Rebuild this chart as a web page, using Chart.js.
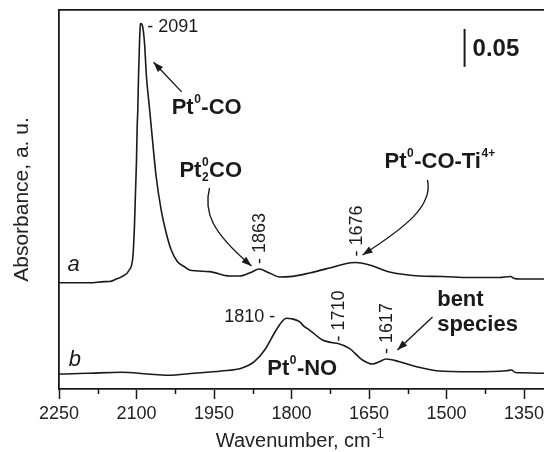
<!DOCTYPE html>
<html>
<head>
<meta charset="utf-8">
<script src="https://cdn.jsdelivr.net/npm/chart.js@4.4.0/dist/chart.umd.min.js"></script>
<style>
  html, body { margin: 0; padding: 0; background: #fff; overflow: hidden; }
  #wrap { width: 560px; height: 452px; }
</style>
</head>
<body>
<div id="wrap"><canvas id="ir" width="560" height="452"></canvas></div>
<script>
// Spectrum a: CO adsorption (wavenumber, absorbance)
const waveA = [2290, 2249, 2191, 2162, 2152, 2139, 2129, 2114, 2107, 2104, 2102, 2100, 2098.7, 2097.5,
  2096.1, 2094.2, 2092.3, 2091, 2088.1, 2084.5, 2080.7, 2074.5, 2068.5, 2061.9, 2052.2, 2042.5,
  2032.8, 2020.7, 2007.1, 1997.4, 1958.7, 1920, 1900.7, 1875.5, 1863, 1842.6, 1823.3, 1803.9,
  1765.2, 1726.5, 1697.5, 1676, 1649.2, 1610.3, 1581.3, 1552.3, 1507.8, 1455.5, 1397.5, 1376.2,
  1368.5, 1358.8, 1314, 1290];
const absA = [0.1402, 0.1402, 0.1402, 0.1416, 0.1418, 0.1451, 0.148, 0.157, 0.1745, 0.2141, 0.2586, 0.302,
  0.346, 0.368, 0.412, 0.4565, 0.4815, 0.482, 0.478, 0.4565, 0.412, 0.368, 0.3245, 0.280, 0.236,
  0.2058, 0.1834, 0.168, 0.1613, 0.157, 0.1548, 0.149, 0.149, 0.1548, 0.1583, 0.153, 0.1478,
  0.1482, 0.153, 0.1596, 0.165, 0.1669, 0.1636, 0.1544, 0.151, 0.149, 0.1484, 0.1471, 0.1471,
  0.1484, 0.1458, 0.1451, 0.1451, 0.1451];

// Spectrum b: NO adsorption
const waveB = [2290, 2249, 2195, 2129, 2079, 2040, 1988, 1936, 1897, 1872, 1852, 1833, 1819, 1810,
  1800, 1784.5, 1775, 1765, 1740, 1722.6, 1710, 1688, 1662.6, 1643.2, 1629.7, 1617, 1591, 1558,
  1519.4, 1449.7, 1383.9, 1374.3, 1366.6, 1353, 1314, 1290];
const absB = [0.0198, 0.0198, 0.0207, 0.022, 0.0198, 0.0181, 0.0207, 0.0237, 0.0273, 0.036, 0.0515,
  0.0739, 0.0884, 0.0933, 0.0927, 0.0888, 0.0822, 0.0778, 0.0646, 0.0613, 0.060, 0.0537, 0.0383,
  0.033, 0.036, 0.0396, 0.036, 0.0294, 0.0241, 0.0228, 0.0241, 0.025, 0.0218, 0.0215, 0.0207, 0.0207];

const majorStep = 150;
const minorTicks = [2175, 2025, 1875, 1725, 1575, 1425];

// Band positions marked on the traces
const peakLabels = [
  { text: '- 2091', wave: 2091, abs: 0.482, rot: false, dx: 6, dy: 3, align: 'left' },
  { text: '1810 -', wave: 1810, abs: 0.0933, rot: false, dx: -11, dy: -1, align: 'right' },
  { text: '- 1863', wave: 1863, abs: 0.1583, rot: true, gap: 5 },
  { text: '- 1676', wave: 1676, abs: 0.1669, rot: true, gap: 6 },
  { text: '- 1710', wave: 1710, abs: 0.060, rot: true, gap: 2 },
  { text: '- 1617', wave: 1617, abs: 0.0396, rot: true, gap: 5 }
];

// Species names (bold, with super/subscripts)
const speciesLabels = [
  { wave: 2032, abs: 0.371, parts: [{ t: 'Pt' }, { sup: '0' }, { t: '-CO' }] },
  { wave: 2017, abs: 0.288, parts: [{ t: 'Pt' }, { sup: '0', sub: '2' }, { t: 'CO' }] },
  { wave: 1620, abs: 0.2995, parts: [{ t: 'Pt' }, { sup: '0' }, { t: '-CO-Ti' }, { sup: '4+' }] },
  { wave: 1847, abs: 0.027, parts: [{ t: 'Pt' }, { sup: '0' }, { t: '-NO' }] },
  { wave: 1518, abs: 0.117, parts: [{ t: 'bent' }] },
  { wave: 1518, abs: 0.0844, parts: [{ t: 'species' }] }
];

const traceNames = [
  { text: 'a', wave: 2233.5, abs: 0.156 },
  { text: 'b', wave: 2231, abs: 0.0307 }
];

// Straight arrows [tailWave, tailAbs, headWave, headAbs]
const straightArrows = [
  [2012.6, 0.392, 2067, 0.431],
  [1527, 0.095, 1595, 0.0515]
];
// Curved arrows: four bezier points, last one is the head
const curvedArrows = [
  [[1958.7, 0.2652], [1970.3, 0.2335], [1954.9, 0.2071], [1877.4, 0.1623]],
  [[1536.8, 0.2757], [1525.2, 0.2414], [1581.3, 0.2124], [1662.6, 0.1768]]
];

// Absorbance scale bar
const scaleBar = { wave: 1465, from: 0.425, to: 0.475, text: '0.05' };

const xTitle = { text: 'Wavenumber, cm', sup: '-1' };

const FONT = '"Liberation Sans", Arial, Helvetica, sans-serif';
const INK = '#1a1a1a';
Chart.defaults.font.family = FONT;
Chart.defaults.color = INK;

function toXY(pts, w) { return w.map((x, i) => ({ x: x, y: pts[i] })); }

function drawRich(ctx, x, y, parts, size) {
  ctx.textAlign = 'left';
  ctx.textBaseline = 'middle';
  let cx = x;
  parts.forEach(p => {
    if (p.t) {
      ctx.font = `bold ${size}px ${FONT}`;
      ctx.fillText(p.t, cx, y);
      cx += ctx.measureText(p.t).width;
    } else {
      const s = Math.round(size * 0.55);
      ctx.font = `bold ${s}px ${FONT}`;
      let w = 0;
      if (p.sup) {
        ctx.fillText(p.sup, cx + 0.5, y - size * 0.36);
        w = Math.max(w, ctx.measureText(p.sup).width);
      }
      if (p.sub) {
        ctx.fillText(p.sub, cx + 0.5, y + size * 0.32);
        w = Math.max(w, ctx.measureText(p.sub).width);
      }
      cx += w + 1;
    }
  });
}

function arrowHead(ctx, fx, fy, tx, ty) {
  const ang = Math.atan2(ty - fy, tx - fx);
  const len = 10, half = 3.6;
  ctx.beginPath();
  ctx.moveTo(tx, ty);
  ctx.lineTo(tx - len * Math.cos(ang) + half * Math.sin(ang), ty - len * Math.sin(ang) - half * Math.cos(ang));
  ctx.lineTo(tx - len * Math.cos(ang) - half * Math.sin(ang), ty - len * Math.sin(ang) + half * Math.cos(ang));
  ctx.closePath();
  ctx.fill();
}

const irNotes = {
  id: 'irNotes',
  afterDraw(chart) {
    const { ctx, scales: { x, y } } = chart;
    const px = w => x.getPixelForValue(w);
    const py = a => y.getPixelForValue(a);
    ctx.save();
    ctx.fillStyle = INK;
    ctx.strokeStyle = INK;

    // minor ticks on the wavenumber axis
    ctx.lineWidth = 1.5;
    minorTicks.forEach(w => {
      const xx = Math.round(px(w)) + 0.5;
      ctx.beginPath();
      ctx.moveTo(xx, x.top);
      ctx.lineTo(xx, x.top + 5);
      ctx.stroke();
    });

    // x axis title with superscript unit
    ctx.fillStyle = '#222';
    ctx.textAlign = 'left';
    ctx.textBaseline = 'alphabetic';
    ctx.font = `20px ${FONT}`;
    const mainW = ctx.measureText(xTitle.text).width;
    ctx.font = `14px ${FONT}`;
    const supW = ctx.measureText(xTitle.sup).width;
    const tx = 300 - (mainW + supW + 1) / 2;
    ctx.font = `20px ${FONT}`;
    ctx.fillText(xTitle.text, tx, 447);
    ctx.font = `14px ${FONT}`;
    ctx.fillText(xTitle.sup, tx + mainW + 1, 438);
    ctx.fillStyle = INK;

    // band positions
    ctx.font = `18px ${FONT}`;
    peakLabels.forEach(l => {
      const lx = px(l.wave), ly = py(l.abs);
      if (l.rot) {
        ctx.save();
        ctx.translate(lx, ly - l.gap);
        ctx.rotate(-Math.PI / 2);
        ctx.textAlign = 'left';
        ctx.textBaseline = 'middle';
        ctx.fillText(l.text, 0, 1);
        ctx.restore();
      } else {
        ctx.textAlign = l.align;
        ctx.textBaseline = 'middle';
        ctx.fillText(l.text, lx + l.dx, ly + l.dy);
      }
    });

    speciesLabels.forEach(l => drawRich(ctx, px(l.wave), py(l.abs), l.parts, 22));

    ctx.font = `italic 22px ${FONT}`;
    ctx.textAlign = 'left';
    ctx.textBaseline = 'alphabetic';
    traceNames.forEach(l => ctx.fillText(l.text, px(l.wave), py(l.abs)));

    // arrows
    ctx.lineWidth = 1.4;
    straightArrows.forEach(([w0, a0, w1, a1]) => {
      const x0 = px(w0), y0 = py(a0), x1 = px(w1), y1 = py(a1);
      ctx.beginPath();
      ctx.moveTo(x0, y0);
      ctx.lineTo(x1, y1);
      ctx.stroke();
      arrowHead(ctx, x0, y0, x1, y1);
    });
    curvedArrows.forEach(pts => {
      const p = pts.map(([w, a]) => [px(w), py(a)]);
      ctx.beginPath();
      ctx.moveTo(p[0][0], p[0][1]);
      ctx.bezierCurveTo(p[1][0], p[1][1], p[2][0], p[2][1], p[3][0], p[3][1]);
      ctx.stroke();
      arrowHead(ctx, p[2][0], p[2][1], p[3][0], p[3][1]);
    });

    // scale bar
    const bx = px(scaleBar.wave);
    ctx.lineWidth = 2;
    ctx.beginPath();
    ctx.moveTo(bx, py(scaleBar.from));
    ctx.lineTo(bx, py(scaleBar.to));
    ctx.stroke();
    ctx.font = `bold 24px ${FONT}`;
    ctx.textAlign = 'left';
    ctx.textBaseline = 'middle';
    ctx.fillText(scaleBar.text, bx + 8, py((scaleBar.from + scaleBar.to) / 2) + 1);

    ctx.restore();
  }
};

const lineStyle = {
  borderColor: INK,
  borderWidth: 1.6,
  pointRadius: 0,
  fill: false,
  cubicInterpolationMode: 'monotone'
};

new Chart(document.getElementById('ir'), {
  type: 'line',
  data: {
    datasets: [
      Object.assign({ label: 'a', data: toXY(absA, waveA) }, lineStyle),
      Object.assign({ label: 'b', data: toXY(absB, waveB) }, lineStyle)
    ]
  },
  options: {
    responsive: false,
    animation: false,
    layout: { padding: { right: 5 } },
    plugins: { legend: { display: false }, tooltip: { enabled: false } },
    scales: {
      x: {
        type: 'linear', reverse: true, min: 1290, max: 2250, position: 'bottom',
        afterFit: s => { s.height = 63; },
        border: { display: true, color: INK, width: 1.8 },
        grid: { display: true, drawOnChartArea: false, drawTicks: true, tickLength: 10, tickWidth: 1.5, tickColor: INK },
        ticks: {
          stepSize: majorStep, includeBounds: false, color: '#222', font: { size: 18 }, padding: 4,
          maxRotation: 0, autoSkip: false, callback: v => String(v)
        },
        title: { display: false }
      },
      xTop: {
        type: 'linear', reverse: true, min: 1290, max: 2250, position: 'top',
        afterFit: s => { s.height = 10; },
        border: { display: true, color: INK, width: 1.8 },
        grid: { display: false },
        ticks: { display: false }
      },
      y: {
        min: 0, max: 0.5,
        afterFit: s => { s.width = 59; },
        border: { display: true, color: INK, width: 1.8 },
        grid: { display: false },
        ticks: { display: false },
        title: { display: true, text: 'Absorbance, a. u.', color: '#222', font: { size: 21 }, padding: { top: 10, bottom: 0 } }
      }
    }
  },
  plugins: [irNotes]
});
</script>
</body>
</html>
